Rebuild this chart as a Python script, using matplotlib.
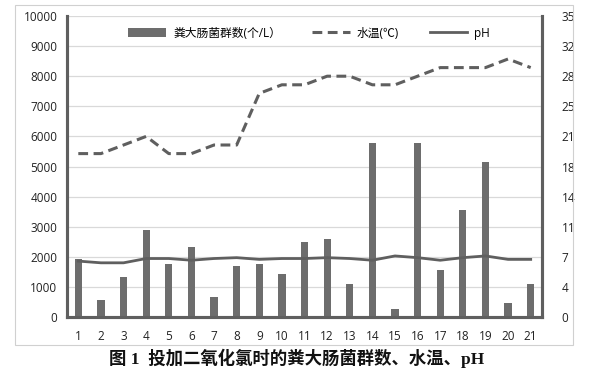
import matplotlib
matplotlib.use("Agg")
import matplotlib.pyplot as plt
from matplotlib.patches import Rectangle

plt.rcParams['font.family'] = ['Open Sans', 'Noto Sans CJK SC', 'DejaVu Sans']

days = list(range(1, 22))
coliform = [1920, 570, 1320, 2890, 1760, 2340, 660, 1700, 1760, 1430,
            2480, 2600, 1100, 5780, 270, 5780, 1570, 3550, 5150, 450, 1100]
water_temp = [19, 19, 20, 21, 19, 19, 20, 20, 26, 27,
              27, 28, 28, 27, 27, 28, 29, 29, 29, 30, 29]
ph = [6.5, 6.3, 6.3, 6.8, 6.8, 6.6, 6.8, 6.9, 6.7, 6.8,
      6.8, 6.9, 6.8, 6.6, 7.1, 6.9, 6.6, 6.9, 7.1, 6.7, 6.7]
left_ticks = list(range(0, 10001, 1000))
right_ticks = [i * 3.5 for i in range(11)]
right_labels = ["0", "4", "7", "11", "14", "18", "21", "25", "28", "32", "35"]

dark = "#5f5f5f"
bar_color = "#6d6d6d"

fig = plt.figure(figsize=(5.89, 3.80), dpi=100)
fig.patches.append(Rectangle((15 / 589, 1 - 345 / 380), 558 / 589, 340 / 380,
                             transform=fig.transFigure, fill=False,
                             edgecolor="#d0d0d0", linewidth=0.8))

ax1 = fig.add_axes([67 / 589, 1 - 317 / 380, 475 / 589, 301 / 380])
ax1.bar(days, coliform, width=0.32, color=bar_color, label="粪大肠菌群数(个/L）", zorder=3)
ax1.set_ylim(0, 10000)
ax1.set_xlim(0.5, 21.5)
ax1.set_yticks(left_ticks)
ax1.set_xticks(days)
ax1.grid(axis="y", color="#d9d9d9", linewidth=0.9, zorder=0)
ax1.tick_params(length=0, labelsize=8.5, colors="#222222", pad=7)
ax1.tick_params(axis="x", pad=9)

ax2 = ax1.twinx()
ax2.plot(days, water_temp, color=dark, linestyle=(0, (3.2, 1.8)), linewidth=2.2,
         label="水温(℃)")
ax2.plot(days, ph, color=dark, linewidth=2.0, label="pH")
ax2.set_ylim(0, 35)
ax2.set_yticks(right_ticks)
ax2.set_yticklabels(right_labels)
ax2.tick_params(length=0, labelsize=8.5, colors="#222222", pad=14)

for ax in (ax1, ax2):
    ax.spines["top"].set_visible(False)
    for s in ("left", "right", "bottom"):
        ax.spines[s].set_color(dark)
        ax.spines[s].set_linewidth(2.2)

h1, l1 = ax1.get_legend_handles_labels()
h2, l2 = ax2.get_legend_handles_labels()
ax2.legend(h1 + h2, l1 + l2, loc="upper center", bbox_to_anchor=(0.51, 1.0),
           ncol=3, frameon=False, handlelength=3.2,
           columnspacing=2.6, handletextpad=0.6,
           prop={"family": ["Open Sans", "Noto Sans CJK SC"], "size": 8.5})

fig.text(0.503, 1 - 358 / 380, "图 1  投加二氧化氯时的粪大肠菌群数、水温、pH",
         ha="center", va="center", fontsize=12.5, fontweight="bold",
         family=["Liberation Serif", "Noto Sans CJK SC"], color="#111111")

fig.savefig("out.png", dpi=100)
